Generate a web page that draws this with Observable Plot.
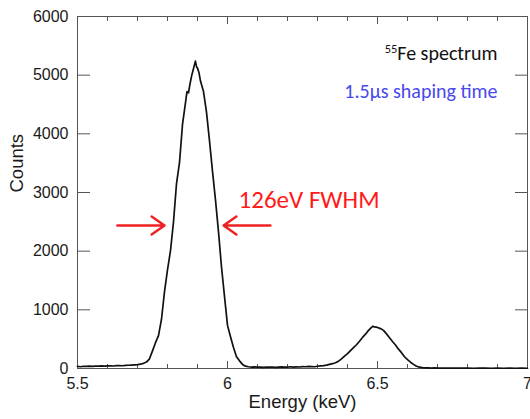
<!DOCTYPE html>
<html>
<head>
<meta charset="utf-8">
<script src="https://cdn.jsdelivr.net/npm/d3@7"></script>
<script src="https://cdn.jsdelivr.net/npm/@observablehq/plot@0.6"></script>
<style>
  html, body { margin: 0; padding: 0; background: white; }
</style>
</head>
<body>
<div id="chart"></div>
<script>
// Spectrum segments: [energy keV, counts]
const lowTail = [[5.50,35],[5.51,30],[5.52,38],[5.53,36],[5.54,40],[5.55,37],[5.56,42],[5.57,40],[5.58,45],[5.59,42],[5.60,44],[5.61,46],[5.62,43],[5.63,48],[5.64,50],[5.65,47],[5.66,52],[5.67,55],[5.68,58],[5.69,62],[5.70,66],[5.71,75],[5.72,88],[5.73,110]];
const kAlphaPeak = [[5.74,165],[5.75,300],[5.76,440],[5.77,560],[5.78,840],[5.79,1310],[5.80,1680],[5.81,2010],[5.82,2500],[5.83,3150],[5.84,3510],[5.85,4160],[5.86,4530],[5.865,4720],[5.87,4700],[5.875,4850],[5.88,4980],[5.885,5080],[5.89,5180],[5.893,5240],[5.897,5140],[5.90,5120],[5.905,5040],[5.91,4900],[5.92,4720],[5.93,4370],[5.94,3880],[5.95,3360],[5.96,2870],[5.97,2330],[5.98,1730],[5.99,1230],[6.00,735],[6.01,540],[6.02,357],[6.03,200],[6.04,130],[6.05,70]];
const midTail = [[6.06,40],[6.07,30],[6.08,25],[6.09,28],[6.10,22],[6.11,25],[6.12,20],[6.13,24],[6.14,22],[6.15,26],[6.16,20],[6.17,24],[6.18,28],[6.19,22],[6.20,25],[6.21,30],[6.22,24],[6.23,28],[6.24,26],[6.25,32],[6.26,30],[6.27,35],[6.28,33],[6.29,30],[6.30,38],[6.31,45]];
const kBetaPeak = [[6.32,50],[6.33,58],[6.34,70],[6.35,82],[6.36,98],[6.37,125],[6.38,165],[6.39,210],[6.40,255],[6.41,305],[6.42,355],[6.43,405],[6.44,465],[6.45,530],[6.46,585],[6.47,650],[6.48,700],[6.485,720],[6.49,708],[6.50,700],[6.51,680],[6.52,650],[6.53,590],[6.54,525],[6.55,460],[6.56,400],[6.57,330],[6.58,270],[6.59,200],[6.60,150],[6.61,107],[6.62,70],[6.63,38],[6.64,24]];
const highTail = [[6.65,15],[6.66,12],[6.67,10],[6.68,8],[6.69,9],[6.70,7],[6.72,6],[6.74,8],[6.76,5],[6.78,6],[6.80,5],[6.82,4],[6.84,6],[6.86,5],[6.88,4],[6.90,5],[6.92,4],[6.94,5],[6.96,4],[6.98,5],[7.00,4]];

// Axis ticks
const xMajorTicks = [5.5, 6, 6.5, 7];
const xMinorTicks = [5.6, 5.7, 5.8, 5.9, 6.1, 6.2, 6.3, 6.4, 6.6, 6.7, 6.8, 6.9];
const yTicks = [0, 1000, 2000, 3000, 4000, 5000, 6000];
const xLabel = "Energy (keV)";
const yLabel = "Counts";

// Annotations
const fwhmArrows = [
  {from: 5.633, to: 5.79, counts: 2437},
  {from: 6.143, to: 5.987, counts: 2437}
];
const fwhmNote = [{energy: 6.037, counts: 2744, text: "126eV FWHM"}];
const sourceNote = [{energy: 6.9, counts: 5267, text: "55Fe spectrum"}];
const shapingNote = [{energy: 6.9, counts: 4619, text: "1.5\u00B5s shaping time"}];

const spectrum = [...lowTail, ...kAlphaPeak, ...midTail, ...kBetaPeak, ...highTail]
  .map(([energy, counts]) => ({energy, counts}));

const axisFont = "'Liberation Sans', Arial, Helvetica, sans-serif";
const annoFont = "Carlito, Calibri, Lato, 'Open Sans', sans-serif";
const axisColor = "#555";

const chart = Plot.plot({
  width: 530,
  height: 419,
  marginLeft: 77,
  marginRight: 3,
  marginTop: 16,
  marginBottom: 51,
  x: {domain: [5.5, 7]},
  y: {domain: [0, 6000]},
  style: {fontFamily: axisFont, fontSize: "16px", color: "#1a1a1a", background: "white"},
  marks: [
    Plot.frame({stroke: axisColor}),
    // x labels
    Plot.axisX({anchor: "bottom", ticks: xMajorTicks, tickSize: 0, tickPadding: 9, tickFormat: d => String(d), label: null, fontSize: 16, fontFamily: axisFont}),
    // x ticks (inward)
    Plot.axisX({anchor: "bottom", ticks: xMajorTicks, tickSize: -7, tickFormat: () => "", label: null, stroke: axisColor}),
    Plot.axisX({anchor: "bottom", ticks: xMinorTicks, tickSize: -4, tickFormat: () => "", label: null, stroke: axisColor}),
    Plot.axisX({anchor: "top", ticks: xMajorTicks, tickSize: -7, tickFormat: () => "", label: null, stroke: axisColor}),
    Plot.axisX({anchor: "top", ticks: xMinorTicks, tickSize: -4, tickFormat: () => "", label: null, stroke: axisColor}),
    // y labels and ticks
    Plot.axisY({anchor: "left", ticks: yTicks, tickSize: 0, tickPadding: 9, tickFormat: d => String(d), label: null, fontSize: 16, fontFamily: axisFont}),
    Plot.axisY({anchor: "left", ticks: yTicks, tickSize: -13, tickFormat: () => "", label: null, stroke: axisColor}),
    Plot.axisY({anchor: "right", ticks: yTicks, tickSize: -13, tickFormat: () => "", label: null, stroke: axisColor}),
    // axis titles
    Plot.text([xLabel], {frameAnchor: "bottom", dy: 39, text: d => d, fontSize: 18.5, fontFamily: axisFont, fill: "#1a1a1a"}),
    Plot.text([yLabel], {frameAnchor: "left", dx: -60, rotate: -90, text: d => d, fontSize: 18.5, fontFamily: axisFont, fill: "#1a1a1a"}),
    // spectrum
    Plot.line(spectrum, {x: "energy", y: "counts", stroke: "#111", strokeWidth: 1.7}),
    // annotations
    Plot.arrow(fwhmArrows, {x1: "from", x2: "to", y1: "counts", y2: "counts", stroke: "#ee2222", strokeWidth: 2.5, headLength: 11, headAngle: 70}),
    Plot.text(fwhmNote, {x: "energy", y: "counts", text: "text", textAnchor: "start", lineAnchor: "bottom", fill: "#ff1a1a", fontSize: 25, fontFamily: annoFont}),
    Plot.text(sourceNote, {x: "energy", y: "counts", text: "text", textAnchor: "end", lineAnchor: "bottom", fill: "#111", fontSize: 20, fontFamily: annoFont}),
    Plot.text(shapingNote, {x: "energy", y: "counts", text: "text", textAnchor: "end", lineAnchor: "bottom", fill: "#4848ee", fontSize: 20, fontFamily: annoFont})
  ]
});

// superscript mass number
d3.select(chart).selectAll("text").filter(function() { return this.textContent === "55Fe spectrum"; })
  .each(function() {
    const t = d3.select(this);
    t.text(null);
    t.append("tspan").attr("font-size", "0.62em").attr("baseline-shift", "super").text("55");
    t.append("tspan").text("Fe spectrum");
  });

document.getElementById("chart").appendChild(chart);
</script>
</body>
</html>
